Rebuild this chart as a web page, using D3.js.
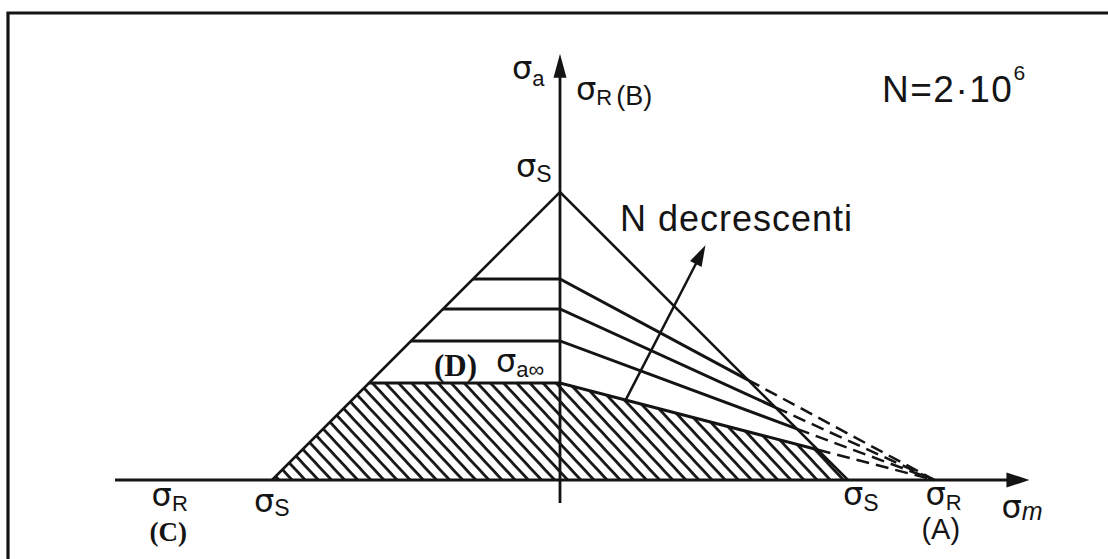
<!DOCTYPE html>
<html>
<head>
<meta charset="utf-8">
<script src="https://cdn.jsdelivr.net/npm/d3@7/dist/d3.min.js"></script>
<style>
  html, body { margin: 0; padding: 0; background: #fff; }
  svg { display: block; }
  text { fill: #141414; }
</style>
</head>
<body>
<svg id="chart" width="1108" height="559"></svg>
<script>
// Haigh diagram (σm – σa) with constant-life lines, in units of σS
const sigmaS = 1.0;            // yield strength
const sigmaR = 1.3;            // ultimate tensile strength
// σa at σm = 0 for each life line; the first one is σa∞ (N = 2·10^6),
// the others belong to decreasing N
const sigmaA0 = [0.337, 0.483, 0.594, 0.698];
const axisXRange = [-1.545, 1.63];
const axisYRange = [-0.08, 1.48];
const trendArrow = [[0.225, 0.272], [0.505, 0.815]];

const W = 1108, H = 559;
const svg = d3.select("#chart");
const ink = "#141414";

const x = d3.scaleLinear().domain([0, 1]).range([560, 848]);
const y = d3.scaleLinear().domain([0, 1]).range([480, 192]);
const line = d3.line().x(d => x(d[0])).y(d => y(d[1]));

// frame
svg.append("path")
  .attr("d", `M8,${H} L8,13 L${W},13`)
  .attr("fill", "none").attr("stroke", ink).attr("stroke-width", 3.2);

// hatch pattern
const defs = svg.append("defs");
const pat = defs.append("pattern")
  .attr("id", "hatch").attr("patternUnits", "userSpaceOnUse")
  .attr("width", 9.6).attr("height", 20)
  .attr("patternTransform", "rotate(-43)");
pat.append("line").attr("x1", 1.5).attr("y1", -2).attr("x2", 1.5).attr("y2", 22)
  .attr("stroke", ink).attr("stroke-width", 2.8);

// where a life line meets the yield line σa + σm = σS
function meetYield(L) {
  const m = (sigmaS - L) / (1 - L / sigmaR);
  return [m, L * (1 - m / sigmaR)];
}

// safe region for N = 2·10^6
const L0 = sigmaA0[0];
const p0 = meetYield(L0);
const safe = [[-sigmaS, 0], [-(sigmaS - L0), L0], [0, L0], p0, [sigmaS, 0]];
svg.append("path")
  .attr("d", line(safe) + "Z")
  .attr("fill", "url(#hatch)").attr("stroke", "none");

// yield triangle
svg.append("path")
  .attr("d", line([[-sigmaS, 0], [0, sigmaS], [sigmaS, 0]]))
  .attr("fill", "none").attr("stroke", ink).attr("stroke-width", 2.6);

// life lines: horizontal on the compression side, towards σR on the tension side
sigmaA0.forEach(L => {
  const p = meetYield(L);
  svg.append("path")
    .attr("d", line([[-(sigmaS - L), L], [0, L], p]))
    .attr("fill", "none").attr("stroke", ink).attr("stroke-width", 3);
  svg.append("path")
    .attr("d", line([p, [sigmaR, 0]]))
    .attr("fill", "none").attr("stroke", ink).attr("stroke-width", 2.5)
    .attr("stroke-dasharray", "13,7");
});

// arrow helper
function arrowHead(tip, from, len, half) {
  const dx = tip[0] - from[0], dy = tip[1] - from[1];
  const d = Math.hypot(dx, dy), ux = dx / d, uy = dy / d;
  const bx = tip[0] - ux * len, by = tip[1] - uy * len;
  return `M${tip[0]},${tip[1]} L${bx - uy * half},${by + ux * half} L${bx + uy * half},${by - ux * half} Z`;
}

// axes
const xa0 = [x(axisXRange[0]), y(0)], xa1 = [x(axisXRange[1]), y(0)];
svg.append("line").attr("x1", xa0[0]).attr("y1", xa0[1]).attr("x2", xa1[0] - 10).attr("y2", xa1[1])
  .attr("stroke", ink).attr("stroke-width", 3);
svg.append("path").attr("d", arrowHead(xa1, xa0, 23, 7.5)).attr("fill", ink);

const ya0 = [x(0), y(axisYRange[0])], ya1 = [x(0), y(axisYRange[1])];
svg.append("line").attr("x1", ya0[0]).attr("y1", ya0[1]).attr("x2", ya1[0]).attr("y2", ya1[1] + 10)
  .attr("stroke", ink).attr("stroke-width", 2.8);
svg.append("path").attr("d", arrowHead(ya1, ya0, 24, 6.5)).attr("fill", ink);

// "N decrescenti" arrow
const ta0 = [x(trendArrow[0][0]), y(trendArrow[0][1])];
const ta1 = [x(trendArrow[1][0]), y(trendArrow[1][1])];
svg.append("line").attr("x1", ta0[0]).attr("y1", ta0[1])
  .attr("x2", ta1[0] - (ta1[0] - ta0[0]) * 0.08).attr("y2", ta1[1] - (ta1[1] - ta0[1]) * 0.08)
  .attr("stroke", ink).attr("stroke-width", 2.5);
svg.append("path").attr("d", arrowHead(ta1, ta0, 21, 6.5)).attr("fill", ink);

// labels
const sans = "'Liberation Sans', Arial, sans-serif";
const greek = "'DejaVu Sans', sans-serif";
const serif = "'Liberation Serif', 'Times New Roman', serif";

function sigmaLabel(px, py, sub, opts = {}) {
  const t = svg.append("text").attr("x", px).attr("y", py)
    .attr("font-family", greek).attr("font-size", opts.size || 32);
  t.append("tspan").text("σ");
  t.append("tspan").attr("dy", opts.dy || 5).attr("dx", opts.dx || 0)
    .attr("font-family", sans)
    .attr("font-size", opts.subSize || 22)
    .attr("font-style", opts.italic ? "italic" : "normal")
    .text(sub);
  if (opts.after) {
    t.append("tspan").attr("dx", 4).attr("font-family", sans)
      .attr("font-size", opts.afterSize || 26).text(opts.after);
  }
  return t;
}

// σa axis label and σR(B)
sigmaLabel(x(0) - 48, y(axisYRange[1]) + 25, "a", { dy: 7, subSize: 22 });
sigmaLabel(x(0) + 16, y(sigmaR) - 6, "R", { dy: 5, subSize: 22, after: "(B)", afterSize: 27 });

// σS at the apex
sigmaLabel(x(0) - 44, y(sigmaS) - 15, "S", { dy: 5, subSize: 23 });

// (D) σa∞
svg.append("text").attr("x", x(0) - 126).attr("y", y(L0) - 7)
  .attr("font-family", serif).attr("font-weight", "bold").attr("font-size", 31).text("(D)");
sigmaLabel(x(0) - 64, y(L0) - 11, "a∞", { dy: 5, subSize: 22 });

// horizontal axis labels
sigmaLabel(x(-sigmaR) - 34, y(0) + 26, "R", { dy: 5, subSize: 22 });
svg.append("text").attr("x", x(-sigmaR) - 36).attr("y", y(0) + 61)
  .attr("font-family", serif).attr("font-size", 27).attr("font-weight", "bold").text("(C)");
sigmaLabel(x(-sigmaS) - 18, y(0) + 32, "S", { dy: 4, subSize: 23 });
sigmaLabel(x(sigmaS) - 5, y(0) + 25, "S", { dy: 6, subSize: 23 });
sigmaLabel(x(sigmaR) - 9, y(0) + 25, "R", { dy: 5, subSize: 22 });
svg.append("text").attr("x", x(sigmaR) - 13).attr("y", y(0) + 59)
  .attr("font-family", sans).attr("font-size", 29).text("(A)");
sigmaLabel(x(axisXRange[1]) - 28, y(0) + 38, "m", { dy: 2, subSize: 25, italic: true });

// annotations
svg.append("text").attr("x", 620).attr("y", 231)
  .attr("font-family", sans).attr("font-size", 36).attr("letter-spacing", 1)
  .text("N decrescenti");
const nt = svg.append("text").attr("x", 882).attr("y", 102)
  .attr("font-family", sans).attr("font-size", 37).attr("letter-spacing", 1.5);
nt.append("tspan").text("N=2·10");
nt.append("tspan").attr("dy", -22).attr("font-size", 21).text("6");
</script>
</body>
</html>
